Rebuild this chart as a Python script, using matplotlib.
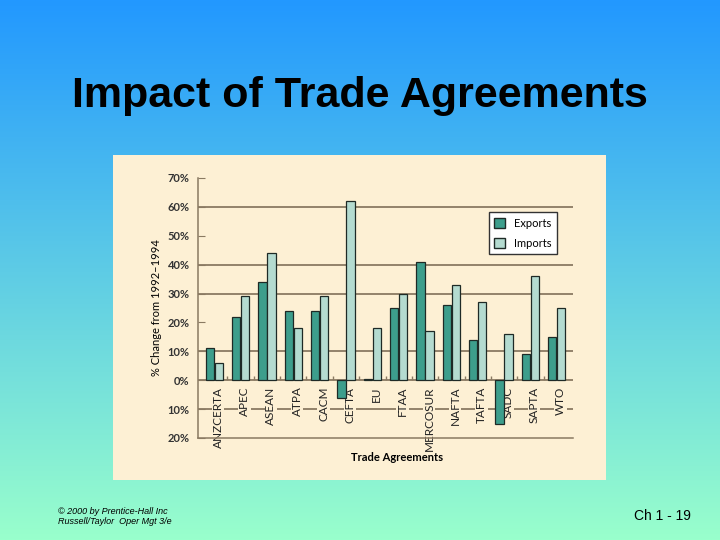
import numpy as np
import matplotlib
matplotlib.use("Agg")
import matplotlib.pyplot as plt
from matplotlib.patches import Rectangle, Patch

# data (percent change 1992-1994)
agreements = ['ANZCERTA', 'APEC', 'ASEAN', 'ATPA', 'CACM', 'CEFTA', 'EU',
              'FTAA', 'MERCOSUR', 'NAFTA', 'TAFTA', 'SADC', 'SAPTA', 'WTO']
exports = [11, 22, 34, 24, 24, -6, 0.3, 25, 41, 26, 14, -15, 9, 15]
imports = [6, 29, 44, 18, 29, 62, 18, 30, 17, 33, 27, 16, 36, 25]
y_ticks = [70, 60, 50, 40, 30, 20, 10, 0, -10, -20]
grid_levels = [60, 40, 30, 10, -10]

export_color = '#3d9e8c'
import_color = '#b4dbd0'
panel_color = '#fdf0d4'
line_color = '#8a7a62'

fig = plt.figure(figsize=(7.2, 5.4), dpi=100)

# slide background gradient
bg = fig.add_axes([0, 0, 1, 1], zorder=-10)
top = np.array([0x22, 0x98, 0xff]) / 255
bottom = np.array([0x99, 0xff, 0xcc]) / 255
t = np.linspace(0, 1, 256)[:, None]
grad = top + (bottom - top) * t
bg.imshow(grad[:, None, :].repeat(2, axis=1), aspect='auto', extent=[0, 1, 0, 1])
bg.axis('off')

fig.text(0.5, 1 - 96 / 540, 'Impact of Trade Agreements', ha='center', va='center',
         fontsize=31, fontweight='bold', family='Liberation Sans')
fig.text(58 / 720, 1 - 512 / 540, '© 2000 by Prentice-Hall Inc', fontsize=6.5,
         style='italic', family='Liberation Sans', va='center')
fig.text(58 / 720, 1 - 522 / 540, 'Russell/Taylor  Oper Mgt 3/e', fontsize=6.5,
         style='italic', family='Liberation Sans', va='center')
fig.text(634 / 720, 1 - 516 / 540, 'Ch 1 - 19', fontsize=10, family='Liberation Sans',
         va='center')

# cream chart panel
fig.patches.append(Rectangle((113 / 720, 1 - 480 / 540), 493 / 720, 325 / 540,
                             transform=fig.transFigure, facecolor=panel_color,
                             edgecolor='none', zorder=-5))

ax = fig.add_axes([198 / 720, 1 - 438 / 540, 375 / 720, 260 / 540])
ax.set_facecolor('none')

x = np.arange(len(agreements))
w = 0.32
ax.bar(x - w / 2 - 0.01, exports, w, color=export_color, edgecolor='#1e2a26',
       linewidth=0.9, zorder=3)
ax.bar(x + w / 2 + 0.01, imports, w, color=import_color, edgecolor='#1e2a26',
       linewidth=0.9, zorder=3)

for g in grid_levels:
    ax.axhline(g, color=line_color, lw=1.3, zorder=1)
ax.axhline(0, color=line_color, lw=1.3, zorder=1)
ax.vlines(x[:-1] + 0.5, 0, 1.6, color=line_color, lw=1, zorder=1)

ax.set_xlim(-0.62, len(agreements) - 0.38)
ax.set_ylim(-20, 70)
ax.set_yticks(y_ticks)
ax.set_yticklabels([f'{abs(v)}%' for v in y_ticks], fontsize=8, fontweight='bold',
                   family='Lato', color='#333333')
ax.tick_params(axis='y', direction='in', length=5, color=line_color, pad=6)
ax.set_xticks([])

for s in ['top', 'right']:
    ax.spines[s].set_visible(False)
for s in ['left', 'bottom']:
    ax.spines[s].set_color(line_color)
    ax.spines[s].set_linewidth(1.1)

for i, name in enumerate(agreements):
    ax.text(i + 0.15, -2.2, name, rotation=90, ha='center', va='top', fontsize=8.5,
            family='Lato', color='#222222', zorder=2,
            bbox=dict(facecolor=panel_color, edgecolor='none', pad=0.5))

ax.set_ylabel('% Change from 1992–1994', fontsize=8, family='Lato', labelpad=4)
ax.text(0.53, -0.075, 'Trade Agreements', transform=ax.transAxes, ha='center',
        va='center', fontsize=8, fontweight='bold', family='Lato')

leg = ax.legend(handles=[Patch(facecolor=export_color, edgecolor='#1e2a26', label='Exports'),
                         Patch(facecolor=import_color, edgecolor='#1e2a26', label='Imports')],
                loc='upper left', bbox_to_anchor=(0.76, 0.89),
                prop={'family': 'Lato', 'size': 8}, frameon=True, fancybox=False,
                handlelength=1.0, handleheight=1.0, borderpad=0.5, labelspacing=0.8)
leg.get_frame().set_edgecolor('#333333')
leg.get_frame().set_facecolor('white')
leg.get_frame().set_alpha(1)
leg.set_zorder(5)

fig.savefig('out.png', dpi=100)
